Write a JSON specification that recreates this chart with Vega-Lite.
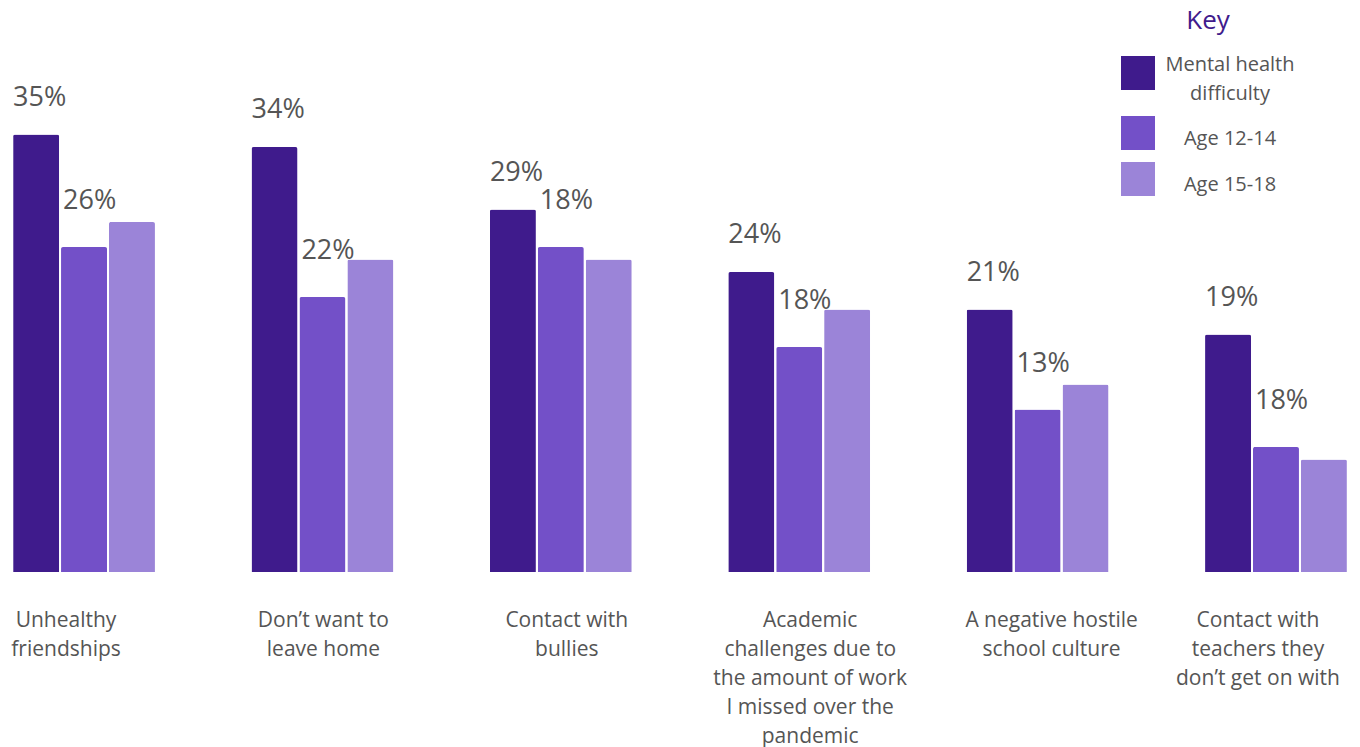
{
  "$schema": "https://vega.github.io/schema/vega-lite/v6.json",
  "width": 1360,
  "height": 500,
  "autosize": {"type": "none"},
  "padding": {"left": 0, "top": 72, "right": 0, "bottom": 175},
  "background": "white",
  "config": {"view": {"stroke": null}, "font": "Open Sans"},
  "data": {
    "values": [
      {"category": "Unhealthy\nfriendships", "series": "Mental health difficulty", "value": 35, "label": "35%"},
      {"category": "Unhealthy\nfriendships", "series": "Age 12-14", "value": 26, "label": "26%"},
      {"category": "Unhealthy\nfriendships", "series": "Age 15-18", "value": 28, "label": null},
      {"category": "Don’t want to\nleave home", "series": "Mental health difficulty", "value": 34, "label": "34%"},
      {"category": "Don’t want to\nleave home", "series": "Age 12-14", "value": 22, "label": "22%"},
      {"category": "Don’t want to\nleave home", "series": "Age 15-18", "value": 25, "label": null},
      {"category": "Contact with\nbullies", "series": "Mental health difficulty", "value": 29, "label": "29%"},
      {"category": "Contact with\nbullies", "series": "Age 12-14", "value": 26, "label": "18%"},
      {"category": "Contact with\nbullies", "series": "Age 15-18", "value": 25, "label": null},
      {"category": "Academic\nchallenges due to\nthe amount of work\nI missed over the\npandemic", "series": "Mental health difficulty", "value": 24, "label": "24%"},
      {"category": "Academic\nchallenges due to\nthe amount of work\nI missed over the\npandemic", "series": "Age 12-14", "value": 18, "label": "18%"},
      {"category": "Academic\nchallenges due to\nthe amount of work\nI missed over the\npandemic", "series": "Age 15-18", "value": 21, "label": null},
      {"category": "A negative hostile\nschool culture", "series": "Mental health difficulty", "value": 21, "label": "21%"},
      {"category": "A negative hostile\nschool culture", "series": "Age 12-14", "value": 13, "label": "13%"},
      {"category": "A negative hostile\nschool culture", "series": "Age 15-18", "value": 15, "label": null},
      {"category": "Contact with\nteachers they\ndon’t get on with", "series": "Mental health difficulty", "value": 19, "label": "19%"},
      {"category": "Contact with\nteachers they\ndon’t get on with", "series": "Age 12-14", "value": 10, "label": "18%"},
      {"category": "Contact with\nteachers they\ndon’t get on with", "series": "Age 15-18", "value": 9, "label": null}
    ]
  },
  "encoding": {
    "x": {
      "field": "category",
      "type": "nominal",
      "sort": null,
      "scale": {"paddingInner": 0.405, "paddingOuter": 0.055},
      "axis": {
        "title": null,
        "domain": false,
        "ticks": false,
        "labelAngle": 0,
        "labelFontSize": 21,
        "labelColor": "#555555",
        "labelLineHeight": 29,
        "labelPadding": 37,
        "labelLimit": 0,
        "labelOverlap": false,
        "labelExpr": "split(datum.label, '\\n')",
        "labelOffset": {
          "condition": [
            {"test": "indexof(datum.value, 'friendships') >= 0", "value": -18},
            {"test": "indexof(datum.value, 'leave home') >= 0", "value": 1},
            {"test": "indexof(datum.value, 'bullies') >= 0", "value": 6},
            {"test": "indexof(datum.value, 'pandemic') >= 0", "value": 11},
            {"test": "indexof(datum.value, 'hostile') >= 0", "value": 14}
          ],
          "value": -18
        }
      }
    },
    "xOffset": {
      "field": "series",
      "type": "nominal",
      "sort": ["Mental health difficulty", "Age 12-14", "Age 15-18"],
      "scale": {"paddingInner": 0.04}
    },
    "y": {
      "field": "value",
      "type": "quantitative",
      "scale": {"domain": [0, 40]},
      "axis": null
    }
  },
  "layer": [
    {
      "mark": {"type": "bar", "cornerRadiusTopLeft": 2, "cornerRadiusTopRight": 2},
      "encoding": {
        "color": {
          "field": "series",
          "type": "nominal",
          "sort": ["Mental health difficulty", "Age 12-14", "Age 15-18"],
          "scale": {
            "domain": ["Mental health difficulty", "Age 12-14", "Age 15-18"],
            "range": ["#3f1b8c", "#7350c8", "#9b84d8"]
          },
          "legend": {
            "title": "Key",
            "orient": "none",
            "legendX": 1121,
            "legendY": -64,
            "direction": "vertical",
            "symbolType": "square",
            "symbolSize": 1156,
            "symbolStrokeWidth": 0,
            "symbolOpacity": 1,
            "labelFontSize": 20,
            "labelColor": "#555555",
            "labelAlign": "center",
            "labelOffset": 75,
            "labelLimit": 0,
            "labelExpr": "datum.label == 'Mental health difficulty' ? ['Mental health', 'difficulty'] : datum.label",
            "rowPadding": 12,
            "titleFontSize": 26,
            "titleColor": "#3f1b8c",
            "titleFontWeight": "normal",
            "titleAnchor": "middle",
            "titlePadding": 22,
            "padding": 0,
            "encode": {
              "labels": {
                "update": {
                  "lineHeight": {"value": 29},
                  "dy": {"signal": "datum.value == 'Mental health difficulty' ? -8 : 6"}
                }
              }
            }
          }
        }
      }
    },
    {
      "transform": [{"filter": "datum.series === 'Mental health difficulty' && datum.label"}],
      "mark": {"type": "text", "align": "left", "baseline": "middle", "dx": -23, "dy": -37, "fontSize": 27, "color": "#555555"},
      "encoding": {"text": {"field": "label"}}
    },
    {
      "transform": [{"filter": "datum.series === 'Age 12-14' && datum.label"}],
      "mark": {"type": "text", "align": "left", "baseline": "middle", "dx": -21, "dy": -46, "fontSize": 27, "color": "#555555"},
      "encoding": {"text": {"field": "label"}}
    }
  ]
}
